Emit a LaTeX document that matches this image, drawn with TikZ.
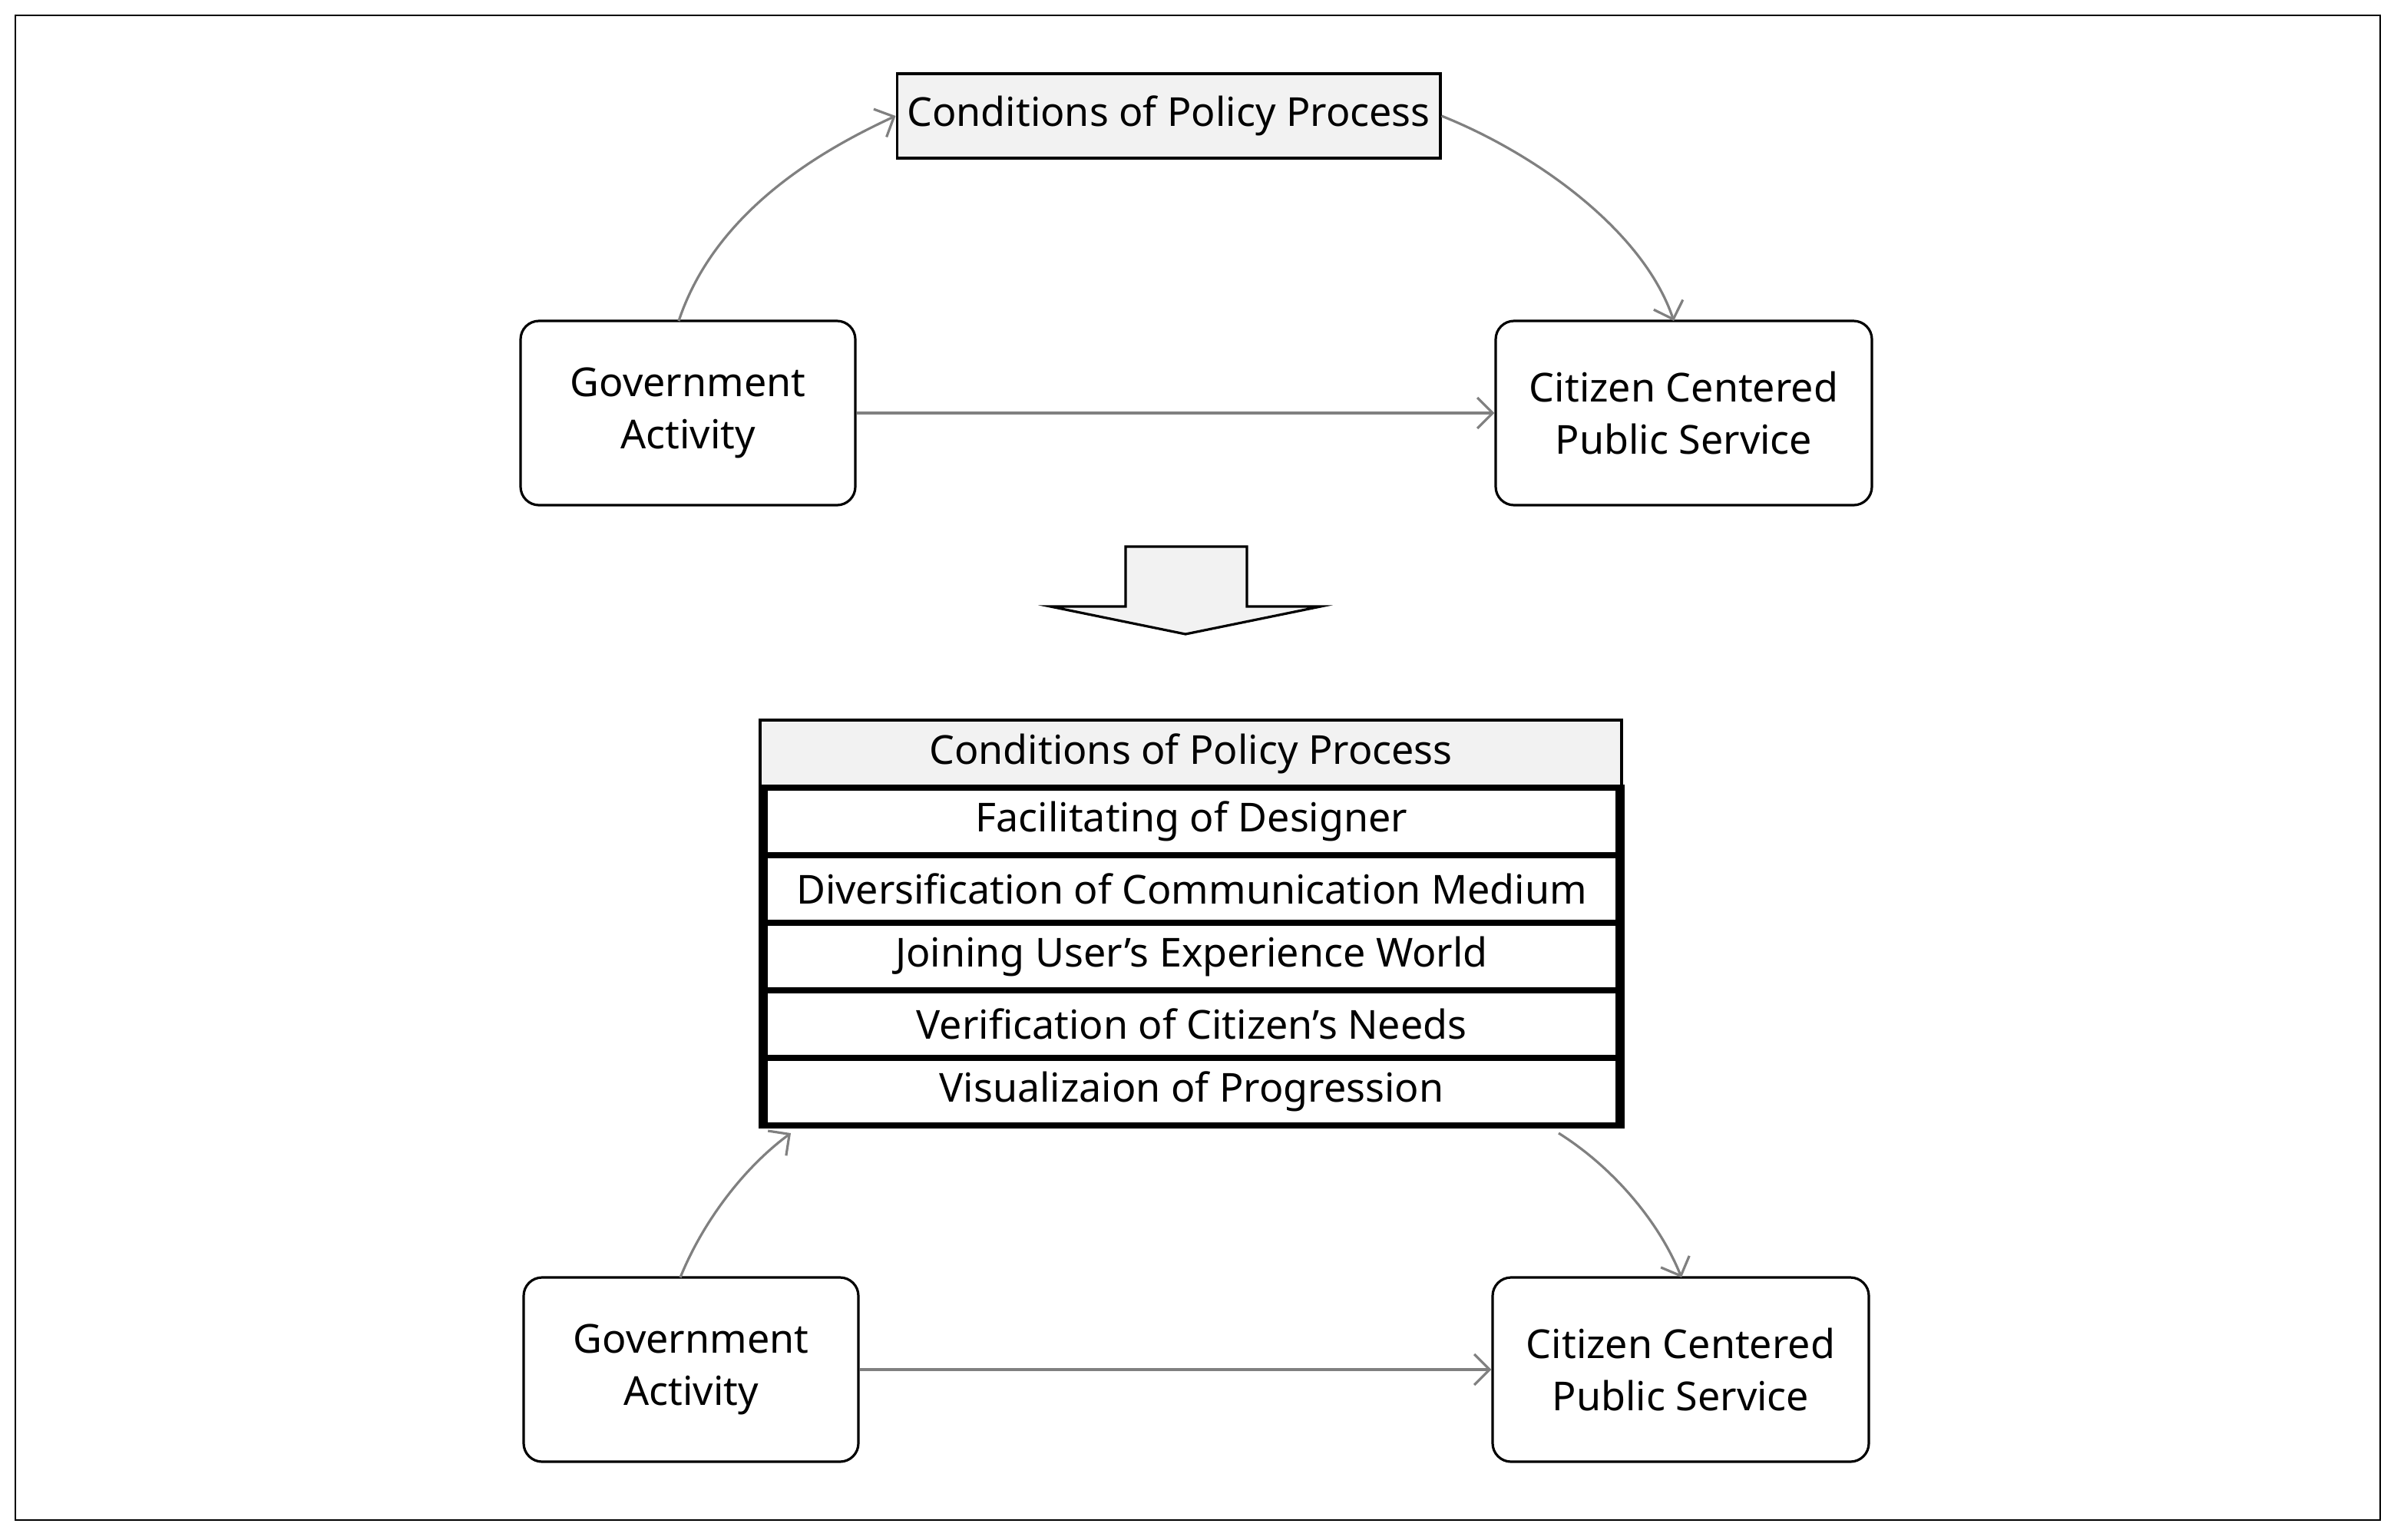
\documentclass[tikz,border=0pt]{standalone}
\usepackage{fontspec}
\usetikzlibrary{arrows.meta}
\setmainfont{Noto Sans}
\begin{document}
\begin{tikzpicture}[x=0.5pt,y=-0.5pt,
  box/.style={draw,thick,rounded corners=6pt,align=center,font=\fontsize{13}{17}\selectfont},
  con/.style={draw=gray,thick,-{Straight Barb[length=5pt]}},
  row/.style={font=\fontsize{13}{16}\selectfont}]
\useasboundingbox (0,0) rectangle (1559,1002.5);
\draw[line width=0.6pt] (10,10) rectangle (1550,990);
% top part
\node[draw,thick,fill=gray!10,minimum width=176pt,minimum height=27.5pt,font=\bfseries\fontsize{13}{16}\selectfont] (top) at (761,75.5) {Conditions of Policy Process};
\node[box,minimum width=109pt,minimum height=60pt] (g1) at (448,269) {Government\\Activity};
\node[box,minimum width=122.5pt,minimum height=60pt] (c1) at (1096.5,269) {Citizen Centered\\Public Service};
\draw[con] (g1) -- (c1);
\coordinate (g1a) at (442,209);
\coordinate (c1a) at (1090,209);
\draw[con] (g1a) .. controls (465,140) and (530,100) .. (top.west);
\draw[con] (top.east) .. controls (1000,100) and (1070,150) .. (c1a);
% big arrow
\draw[thick,fill=gray!10] (733,356) -- (812,356) -- (812,395) -- (860,395) -- (772,413) -- (684,395) -- (733,395) -- cycle;
% table
\node[draw,thick,fill=gray!10,minimum width=280.5pt,minimum height=22pt,font=\bfseries\fontsize{13}{16}\selectfont] (hd) at (775.5,491) {Conditions of Policy Process};
\draw[line width=1.8pt] (496,513) rectangle (1056,733);
\foreach \t [count=\i] in {Facilitating of Designer,Diversification of Communication Medium,Joining User’s Experience World,Verification of Citizen’s Needs,Visualizaion of Progression}{
  \draw[thick] (499,{513+44*(\i-1)+1}) rectangle (1053,{513+44*\i-1});
  \node[row] (r\i) at (776,{513+44*(\i-1)+22}) {\t};
}
% bottom
\node[box,minimum width=109pt,minimum height=60pt] (g2) at (450,892) {Government\\Activity};
\node[box,minimum width=122.5pt,minimum height=60pt] (c2) at (1094.5,892) {Citizen Centered\\Public Service};
\draw[con] (g2) -- (c2);
\coordinate (g2a) at (443,832);
\coordinate (t2a) at (515,738);
\coordinate (t2b) at (1015,738);
\coordinate (c2a) at (1095,832);
\draw[con] (g2a) .. controls (458,795) and (485,760) .. (t2a);
\draw[con] (t2b) .. controls (1050,760) and (1080,795) .. (c2a);
\end{tikzpicture}
\end{document}
